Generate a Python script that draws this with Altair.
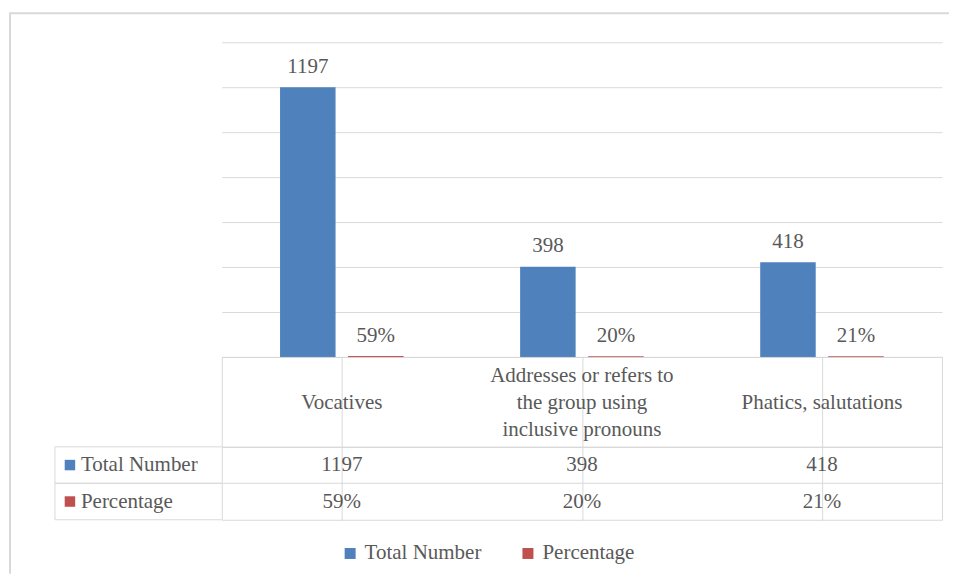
import altair as alt
import pandas as pd

categories = ["Vocatives",
              "Addresses or refers to the group using inclusive pronouns",
              "Phatics, salutations"]
header_lines = [["Vocatives"],
                ["Addresses or refers to", "the group using", "inclusive pronouns"],
                ["Phatics, salutations"]]
series = ["Total Number", "Percentage"]
total_number = [1197, 398, 418]
percentage = [0.59, 0.20, 0.21]
y_ticks = [0, 200, 400, 600, 800, 1000, 1200, 1400]
colors = ["#4F81BD", "#C0504D"]

rows = []
for i, c in enumerate(categories):
    rows.append({"cat": c, "series": series[0], "value": total_number[i],
                 "label": f"{total_number[i]}"})
    rows.append({"cat": c, "series": series[1], "value": percentage[i],
                 "label": f"{round(percentage[i] * 100)}%"})
df = pd.DataFrame(rows)

hrows = []
for c, lines in zip(categories, header_lines):
    n = len(lines)
    for j, t in enumerate(lines):
        hrows.append({"cat": c, "line": t, "pos": j - (n - 1) / 2})
hdr = pd.DataFrame(hrows)
lab = pd.DataFrame({"series": series})

FONT = "Liberation Serif"
TXT = "#595959"
GRID = "#D9D9D9"
W = 721
FS = 21

xscale = alt.Scale(domain=categories, paddingInner=0, paddingOuter=0)
grid_x_axis = alt.Axis(grid=True, bandPosition=0, gridColor=GRID, labels=False,
                       ticks=False, domain=False, title=None)
xoff = alt.XOffset("series:N", sort=series,
                   scale=alt.Scale(domain=series, paddingInner=0.206, paddingOuter=0.868))
cscale = alt.Scale(domain=series, range=colors)

# ---------- bar chart ----------
ybar = alt.Y("value:Q", scale=alt.Scale(domain=[0, 1400]),
             axis=alt.Axis(values=y_ticks, labels=False, ticks=False, domain=False,
                           grid=True, gridColor=GRID, gridWidth=1, title=None))
xbar = alt.X("cat:N", sort=categories, scale=xscale, axis=None)

bars = alt.Chart(df).mark_bar(strokeWidth=1.5).encode(
    x=xbar, xOffset=xoff, y=ybar,
    color=alt.Color("series:N", scale=cscale, legend=None),
    stroke=alt.Stroke("series:N", scale=cscale, legend=None),
)
bar_labels = alt.Chart(df).mark_text(
    baseline="alphabetic", dy=-15, font=FONT, fontSize=FS, color=TXT
).encode(x=xbar, xOffset=xoff, y=ybar, text="label:N")

frame_df = pd.DataFrame({"k": [0]})
frame_left = alt.Chart(frame_df).mark_rule(color=GRID, strokeWidth=2).encode(
    x=alt.value(-212), y=alt.value(-29), y2=alt.value(532))
frame_top = alt.Chart(frame_df).mark_rule(color=GRID, strokeWidth=2).encode(
    y=alt.value(-29), x=alt.value(-213), x2=alt.value(728))

top = alt.layer(frame_left, frame_top, bars, bar_labels).properties(width=W, height=315)

# ---------- header row ----------
header = alt.Chart(hdr).mark_text(
    font=FONT, fontSize=FS, color=TXT, baseline="middle"
).encode(
    x=alt.X("cat:N", sort=categories, scale=xscale, axis=grid_x_axis),
    y=alt.Y("pos:Q", scale=alt.Scale(domain=[1.63, -1.7]), axis=None),
    text="line:N",
).properties(width=W, height=90, view=alt.ViewBackground(stroke=GRID, strokeWidth=1))

# ---------- data rows ----------
yscale = alt.Scale(domain=series, paddingInner=0, paddingOuter=0)
yaxis = alt.Axis(grid=True, bandPosition=0, gridColor=GRID, labels=False,
                 ticks=False, domain=False, title=None)

cells = alt.Chart(df).mark_text(
    font=FONT, fontSize=FS, color=TXT, baseline="middle"
).encode(
    x=alt.X("cat:N", sort=categories, scale=xscale, axis=grid_x_axis),
    y=alt.Y("series:N", sort=series, scale=yscale, axis=yaxis),
    text="label:N",
)
row_top = alt.Chart(lab).mark_rule(color=GRID).encode(
    y=alt.Y("series:N", sort=series, scale=yscale, axis=yaxis, bandPosition=0),
    x=alt.value(-167), x2=alt.value(0))
row_bot = alt.Chart(lab).mark_rule(color=GRID).encode(
    y=alt.Y("series:N", sort=series, scale=yscale, axis=yaxis, bandPosition=1),
    x=alt.value(-167), x2=alt.value(0))
left_v = alt.Chart(frame_df).mark_rule(color=GRID).encode(
    x=alt.value(-167), y=alt.value(0), y2=alt.value(73))
squares = alt.Chart(lab).mark_square(size=110, opacity=1).encode(
    x=alt.value(-152),
    y=alt.Y("series:N", sort=series, scale=yscale, axis=yaxis),
    color=alt.Color("series:N", scale=cscale,
                    legend=alt.Legend(orient="none", legendX=118, legendY=96,
                                      direction="horizontal", title=None,
                                      symbolType="square", symbolSize=121,
                                      symbolStrokeWidth=0, symbolOpacity=1,
                                      labelFont=FONT, labelFontSize=FS,
                                      labelColor=TXT, columnPadding=36,
                                      labelOffset=4)),
)
row_labels = alt.Chart(lab).mark_text(
    align="left", baseline="middle", font=FONT, fontSize=FS, color=TXT
).encode(
    x=alt.value(-141),
    y=alt.Y("series:N", sort=series, scale=yscale, axis=yaxis),
    text="series:N",
)

table = alt.layer(left_v, row_top, row_bot, cells, squares, row_labels).properties(
    width=W, height=73, view=alt.ViewBackground(stroke=GRID, strokeWidth=1))

chart = alt.vconcat(top, header, table, spacing=0, bounds="flush").resolve_scale(
    x="independent", y="independent", color="independent", stroke="independent"
).properties(
    padding={"left": 0, "top": 4, "right": 0, "bottom": 0}
).configure_view(stroke=None)

chart.save("out.html", embed_options={"renderer": "svg", "actions": False})
